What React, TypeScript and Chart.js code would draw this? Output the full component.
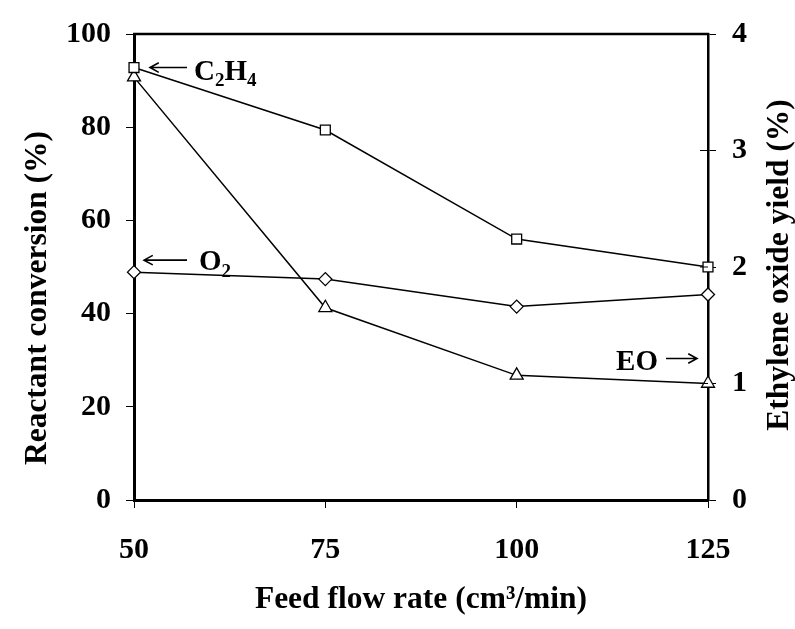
import React, { useEffect, useRef } from 'react';
import { Chart, registerables } from 'chart.js';

Chart.register(...registerables);

// ---- data ----
const flowRates = [50, 75, 100, 125];
const c2h4Conversion = [92.8, 79.4, 56, 50];
const o2Conversion = [48.9, 47.4, 41.5, 44.1];
const eoYield = [3.63, 1.65, 1.07, 1.0];

const xTicks = [50, 75, 100, 125];
const leftTicks = [0, 20, 40, 60, 80, 100];
const rightTicks = [0, 1, 2, 3, 4];

const xTitle = 'Feed flow rate (cm³/min)';
const leftTitle = 'Reactant conversion (%)';
const rightTitle = 'Ethylene oxide yield (%)';

const labelC2H4: [string, boolean][] = [['C', false], ['2', true], ['H', false], ['4', true]];
const labelO2: [string, boolean][] = [['O', false], ['2', true]];
const labelEO: [string, boolean][] = [['EO', false]];

const FONT = '"Liberation Serif", "Times New Roman", serif';
const TICK_SIZE = 30;
const TITLE_SIZE = 31.5;
const ANN_SIZE = 29;

function drawRich(ctx: CanvasRenderingContext2D, parts: [string, boolean][], x: number, y: number, size: number, align: 'left' | 'right') {
  const main = `bold ${size}px ${FONT}`;
  const sub = `bold ${Math.round(size * 0.66)}px ${FONT}`;
  const widths = parts.map(([t, s]) => {
    ctx.font = s ? sub : main;
    return ctx.measureText(t).width;
  });
  const total = widths.reduce((a, b) => a + b, 0);
  let cx = align === 'right' ? x - total : x;
  ctx.textAlign = 'left';
  ctx.textBaseline = 'alphabetic';
  parts.forEach(([t, s], i) => {
    ctx.font = s ? sub : main;
    ctx.fillText(t, cx, s ? y + size * 0.22 : y);
    cx += widths[i];
  });
}

function drawArrow(ctx: CanvasRenderingContext2D, x1: number, y1: number, x2: number, y2: number) {
  // from tail (x1,y1) to tip (x2,y2)
  const ang = Math.atan2(y2 - y1, x2 - x1);
  const head = 10;
  ctx.beginPath();
  ctx.moveTo(x1, y1);
  ctx.lineTo(x2, y2);
  ctx.moveTo(x2 - head * Math.cos(ang - 0.5), y2 - head * Math.sin(ang - 0.5));
  ctx.lineTo(x2, y2);
  ctx.lineTo(x2 - head * Math.cos(ang + 0.5), y2 - head * Math.sin(ang + 0.5));
  ctx.stroke();
}

const decorPlugin = {
  id: 'decor',
  afterDraw(chart: any) {
    const { ctx, chartArea, scales } = chart;
    const xs = scales.x;
    const ys = scales.y;
    const y2s = scales.y2;
    ctx.save();
    ctx.strokeStyle = '#000';
    ctx.fillStyle = '#000';

    // top frame line
    ctx.lineWidth = 2.5;
    ctx.beginPath();
    ctx.moveTo(chartArea.left - 1, chartArea.top);
    ctx.lineTo(chartArea.right + 1, chartArea.top);
    ctx.stroke();

    // inner part of right-axis ticks
    ctx.lineWidth = 1;
    rightTicks.forEach((v) => {
      const py = y2s.getPixelForValue(v);
      ctx.beginPath();
      ctx.moveTo(chartArea.right - 8, py);
      ctx.lineTo(chartArea.right, py);
      ctx.stroke();
    });

    // axis titles (both read bottom-to-top)
    ctx.font = `bold ${TITLE_SIZE}px ${FONT}`;
    ctx.textAlign = 'center';
    ctx.textBaseline = 'middle';
    ctx.save();
    ctx.translate(38, (chartArea.top + chartArea.bottom) / 2 + 31);
    ctx.rotate(-Math.PI / 2);
    ctx.fillText(leftTitle, 0, 0);
    ctx.restore();
    ctx.save();
    ctx.translate(780, (chartArea.top + chartArea.bottom) / 2 - 2);
    ctx.rotate(-Math.PI / 2);
    ctx.fillText(rightTitle, 0, 0);
    ctx.restore();

    // annotations
    ctx.lineWidth = 1.6;
    const pC = { x: xs.getPixelForValue(flowRates[0]), y: ys.getPixelForValue(c2h4Conversion[0]) };
    drawArrow(ctx, pC.x + 53, pC.y, pC.x + 16, pC.y);
    drawRich(ctx, labelC2H4, pC.x + 60, pC.y + 12, ANN_SIZE, 'left');

    const pO = { x: xs.getPixelForValue(flowRates[0]), y: ys.getPixelForValue(o2Conversion[0]) };
    drawArrow(ctx, pO.x + 53, pO.y - 12, pO.x + 10, pO.y - 12);
    drawRich(ctx, labelO2, pO.x + 65, pO.y - 2, ANN_SIZE, 'left');

    const pE = { x: xs.getPixelForValue(flowRates[3]), y: y2s.getPixelForValue(eoYield[3]) };
    drawArrow(ctx, pE.x - 42, pE.y - 25, pE.x - 11, pE.y - 25);
    drawRich(ctx, labelEO, pE.x - 50, pE.y - 14, ANN_SIZE, 'right');

    ctx.restore();
  },
};

function lineDataset(label: string, data: number[], style: string, radius: number, axis: string) {
  return {
    label,
    data: flowRates.map((x, i) => ({ x, y: data[i] })),
    yAxisID: axis,
    borderColor: '#000',
    borderWidth: 1.5,
    backgroundColor: '#fff',
    pointStyle: style,
    pointRadius: radius,
    pointBackgroundColor: '#fff',
    pointBorderColor: '#000',
    pointBorderWidth: 1.3,
    tension: 0,
    clip: false,
  };
}

export default function App() {
  const ref = useRef<HTMLCanvasElement>(null);
  useEffect(() => {
    if (!ref.current) return;
    const tickFont = { family: FONT, size: TICK_SIZE, weight: 'bold' as const };
    const chart = new Chart(ref.current, {
      type: 'line',
      data: {
        datasets: [
          lineDataset('C2H4', c2h4Conversion, 'rect', 7, 'y'),
          lineDataset('O2', o2Conversion, 'rectRot', 6.5, 'y'),
          lineDataset('EO', eoYield, 'triangle', 7.5, 'y2'),
        ],
      },
      options: {
        animation: false,
        responsive: false,
        layout: { padding: { top: 28, left: 0, right: 0, bottom: 0 } },
        plugins: { legend: { display: false }, tooltip: { enabled: false } },
        scales: {
          x: {
            type: 'linear',
            min: 50,
            max: 125,
            z: 1,
            afterBuildTicks: (s: any) => { s.ticks = xTicks.map((v) => ({ value: v })); },
            afterFit: (s: any) => { s.height = 129; },
            grid: { drawOnChartArea: false, drawTicks: true, tickLength: 8, tickColor: '#000', tickWidth: 1 },
            border: { display: true, color: '#000', width: 3 },
            ticks: { font: tickFont, color: '#000', padding: 24, maxRotation: 0 },
            title: { display: true, text: xTitle, color: '#000', font: { family: FONT, size: TITLE_SIZE, weight: 'bold' }, padding: { top: 0, bottom: 10 } },
          },
          y: {
            type: 'linear',
            position: 'left',
            min: 0,
            max: 100,
            z: 1,
            afterBuildTicks: (s: any) => { s.ticks = leftTicks.map((v) => ({ value: v })); },
            afterFit: (s: any) => { s.width = 134; },
            grid: { drawOnChartArea: false, drawTicks: true, tickLength: 8, tickColor: '#000', tickWidth: 1 },
            border: { display: true, color: '#000', width: 3 },
            ticks: { font: tickFont, color: '#000', padding: 15 },
          },
          y2: {
            type: 'linear',
            position: 'right',
            min: 0,
            max: 4,
            z: 1,
            afterBuildTicks: (s: any) => { s.ticks = rightTicks.map((v) => ({ value: v })); },
            afterFit: (s: any) => { s.width = 87; },
            grid: { drawOnChartArea: false, drawTicks: true, tickLength: 8, tickColor: '#000', tickWidth: 1 },
            border: { display: true, color: '#000', width: 2.5 },
            ticks: { font: tickFont, color: '#000', padding: 16 },
          },
        },
      },
      plugins: [decorPlugin],
    } as any);
    return () => chart.destroy();
  }, []);
  return (
    <div style={{ position: 'absolute', left: 0, top: 0, width: 795, height: 629, background: '#fff' }}>
      <canvas ref={ref} width={795} height={629} style={{ display: 'block' }} />
    </div>
  );
}
